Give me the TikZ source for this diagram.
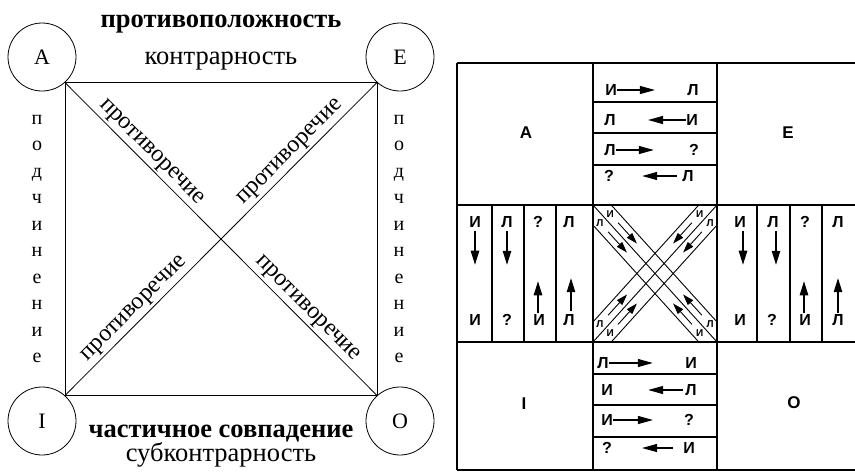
\documentclass[tikz,border=0pt]{standalone}
\usepackage{fontspec}
\setmainfont{Liberation Serif}
\newfontfamily\gridsans{Liberation Sans}
\usetikzlibrary{arrows.meta,calc}

\begin{document}
\begin{tikzpicture}[x=1pt,y=-1pt,
  sqline/.style={line width=0.8pt},
  term/.style={circle,draw,line width=0.8pt,minimum size=68pt,inner sep=0pt,
    font=\fontsize{22}{24}\selectfont},
  relbold/.style={anchor=base,inner sep=0pt,font=\fontsize{26.5}{28}\selectfont\bfseries},
  relname/.style={anchor=base,inner sep=0pt,font=\fontsize{26.5}{28}\selectfont},
  sidelet/.style={anchor=base,inner sep=0pt,font=\fontsize{20}{22}\selectfont},
  diaglabel/.style={sloped,above,inner sep=2.5pt,font=\fontsize{24}{26}\selectfont},
  gridline/.style={line width=1.4pt},
  bandline/.style={line width=0.9pt},
  glyph/.style={inner sep=0pt,font=\gridsans\bfseries\fontsize{16}{18}\selectfont},
  corner/.style={inner sep=0pt,font=\gridsans\bfseries\fontsize{17}{19}\selectfont},
  tiny/.style={inner sep=0pt,font=\gridsans\bfseries\fontsize{10}{11}\selectfont},
  harrow/.style={line width=1.1pt,-{Triangle[length=15pt,width=8pt]}},
  varrow/.style={line width=1.1pt,-{Triangle[length=14pt,width=8.5pt]}},
  xarrow/.style={line width=0.9pt,-{Triangle[length=11pt,width=7pt]}},
]
\useasboundingbox (0,0) rectangle (855,472);

% ---------- logical square ----------
\node[term] (A) at (42,57) {A};
\node[term] (E) at (400,57) {E};
\node[term] (I) at (42,421) {I};
\node[term] (O) at (400,421) {O};

\draw[sqline] (A.-48) -- (E.-132) -- (O.132) -- (I.48) -- cycle;
\coordinate (c) at ($(A.-48)!0.5!(O.132)$);
\draw[sqline] (A.-48) -- node[diaglabel] (d1) {противоречие} (c)
                      -- node[diaglabel] (d2) {противоречие} (O.132);
\draw[sqline] (I.48)  -- node[diaglabel] (d3) {противоречие} (c)
                      -- node[diaglabel] (d4) {противоречие} (E.-132);

\node[relbold] (top1) at (221,27) {противоположность};
\node[relname] (top2) at (221,64) {контрарность};
\node[relbold] (bot1) at (221,437) {частичное совпадение};
\node[relname] (bot2) at (221,461) {субконтрарность};

\foreach \ch [count=\k] in {п,о,д,ч,и,н,е,н,и,е}{
  \node[sidelet] (pl\k) at (37,{97.5+26.5*\k}) {\ch};
  \node[sidelet] (pr\k) at (399,{97.5+26.5*\k}) {\ch};
}

% ---------- truth-value table ----------
\draw[gridline] (457,63) -- (860,63);
\draw[gridline] (457,205) -- (860,205);
\draw[gridline] (457,342) -- (860,342);
\draw[gridline] (457,470) -- (860,470);
\draw[gridline] (457,63) -- (457,470);
\draw[gridline] (593,63) -- (593,470);
\draw[gridline] (717,63) -- (717,470);
\foreach \x in {492,524,556,757,790,822} \draw[gridline] (\x,205) -- (\x,342);
\foreach \y in {102,133,165,374,405,437} \draw[gridline] (593,\y) -- (717,\y);

\node[corner] (tA) at (526,133) {A};
\node[corner] (tE) at (788,133) {E};
\node[corner] (tI) at (524,404) {I};
\node[corner] (tO) at (794,403) {O};

% contraries A--E
\node[glyph] (r1l) at (611,90) {И};  \node[glyph] (r1r) at (693,90) {Л};
\draw[harrow] (r1l.east) -- ++(38,0);
\node[glyph] (r2l) at (610,120) {Л}; \node[glyph] (r2r) at (692,120) {И};
\draw[harrow] (r2r.west) -- ++(-38,0);
\node[glyph] (r3l) at (610,150) {Л}; \node[glyph] (r3r) at (694,150) {?};
\draw[harrow] (r3l.east) -- ++(38,0);
\node[glyph] (r4l) at (609,176) {?}; \node[glyph] (r4r) at (688,176) {Л};
\draw[harrow] (r4r.west) ++(-5,0) -- ++(-35,0);

% subcontraries I--O
\node[glyph] (s1l) at (603,363) {Л}; \node[glyph] (s1r) at (691,363) {И};
\draw[harrow] (s1l.east) -- ++(44,0);
\node[glyph] (s2l) at (607,390) {И}; \node[glyph] (s2r) at (691,390) {Л};
\draw[harrow] (s2r.west) ++(-2,0) -- ++(-35,0);
\node[glyph] (s3l) at (607,420) {И}; \node[glyph] (s3r) at (689,420) {?};
\draw[harrow] (s3l.east) -- ++(40,0);
\node[glyph] (s4l) at (607,448) {?}; \node[glyph] (s4r) at (689,448) {И};
\draw[harrow] (s4r.west) ++(-10,0) -- ++(-31,0);

% subalterns A--I
\node[glyph] (c1t) at (475,222) {И}; \node[glyph] (c1b) at (475,320) {И};
\draw[varrow] (c1t.south) ++(0,3) -- ++(0,34);
\node[glyph] (c2t) at (507,222) {Л}; \node[glyph] (c2b) at (507,320) {?};
\draw[varrow] (c2t.south) ++(0,3) -- ++(0,34);
\node[glyph] (c3t) at (538,222) {?}; \node[glyph] (c3b) at (539,320) {И};
\draw[varrow] (c3b.north) ++(-1,-1) -- ++(0,-32);
\node[glyph] (c4t) at (569,222) {Л}; \node[glyph] (c4b) at (569,320) {Л};
\draw[varrow] (c4b.north) ++(2,-3) -- ++(0,-33);

% subalterns E--O
\node[glyph] (c5t) at (740,222) {И}; \node[glyph] (c5b) at (740,320) {И};
\draw[varrow] (c5t.south) ++(3,3) -- ++(0,34);
\node[glyph] (c6t) at (773,222) {Л}; \node[glyph] (c6b) at (772,320) {?};
\draw[varrow] (c6t.south) ++(3,3) -- ++(0,34);
\node[glyph] (c7t) at (805,222) {?}; \node[glyph] (c7b) at (805,320) {И};
\draw[varrow] (c7b.north) ++(-1,-1) -- ++(0,-32);
\node[glyph] (c8t) at (838,222) {Л}; \node[glyph] (c8b) at (838,320) {Л};
\draw[varrow] (c8b.north) ++(0,-1) -- ++(0,-35);

% contradictories: two crossing double strips
\begin{scope}
  \clip (593,205) rectangle (717,342);
  \draw[bandline] (589.6,181.1) -- (740.4,347.8);
  \draw[bandline] (579.6,190.2) -- (730.4,356.8);
  \draw[bandline] (569.6,199.2) -- (720.4,365.9);
  \draw[bandline] (569.6,347.8) -- (720.4,181.1);
  \draw[bandline] (579.6,356.8) -- (730.4,190.2);
  \draw[bandline] (589.6,365.9) -- (740.4,199.2);
\end{scope}

% A--O strip
\node[tiny] (xa1) at (610.3,213.6) {И};
\node[tiny] (xa2) at (599.9,223.0) {Л};
\node[tiny] (xo1) at (710.1,324.0) {Л};
\node[tiny] (xo2) at (699.7,333.4) {И};
\coordinate (pa1) at (618.1,222.7); \coordinate (qa1) at (636.9,243.5);
\coordinate (pa2) at (608.1,231.8); \coordinate (qa2) at (626.9,252.5);
\coordinate (po1) at (701.9,315.2); \coordinate (qo1) at (683.1,294.5);
\coordinate (po2) at (691.9,324.3); \coordinate (qo2) at (673.1,303.5);
\draw[xarrow] (pa1) -- (qa1);
\draw[xarrow] (pa2) -- (qa2);
\draw[xarrow] (po1) -- (qo1);
\draw[xarrow] (po2) -- (qo2);

% I--E strip
\node[tiny] (xi1) at (599.9,324.0) {Л};
\node[tiny] (xi2) at (610.3,333.4) {И};
\node[tiny] (xe1) at (699.7,213.6) {И};
\node[tiny] (xe2) at (710.1,223.0) {Л};
\coordinate (pi1) at (608.1,315.2); \coordinate (qi1) at (627.0,294.5);
\coordinate (pi2) at (618.1,324.3); \coordinate (qi2) at (636.9,303.5);
\coordinate (pe1) at (691.9,222.7); \coordinate (qe1) at (673.1,243.5);
\coordinate (pe2) at (701.9,231.8); \coordinate (qe2) at (683.1,252.5);
\draw[xarrow] (pi1) -- (qi1);
\draw[xarrow] (pi2) -- (qi2);
\draw[xarrow] (pe1) -- (qe1);
\draw[xarrow] (pe2) -- (qe2);
\end{tikzpicture}
\end{document}
